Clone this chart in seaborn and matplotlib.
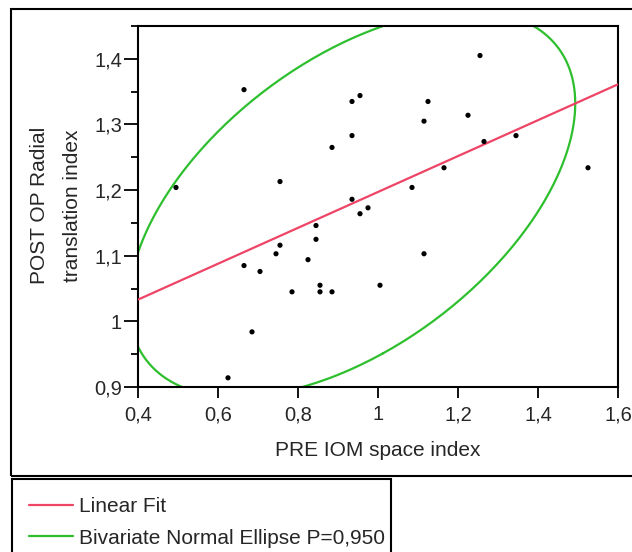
import numpy as np
import pandas as pd
import matplotlib
matplotlib.use("Agg")
import matplotlib.pyplot as plt
from matplotlib.patches import Rectangle
from matplotlib.ticker import FixedLocator
import seaborn as sns

# ---- data ----
pre_iom = [0.495, 0.665, 0.935, 0.955, 0.935, 0.885, 0.755, 0.935, 1.255, 1.125,
           1.115, 1.225, 1.265, 1.345, 1.165, 1.525, 1.085, 0.955, 0.975, 0.845,
           0.845, 0.755, 0.745, 0.825, 0.665, 0.705, 0.785, 0.855, 0.855, 0.885,
           1.005, 0.685, 0.625, 1.115]
post_op = [1.204, 1.353, 1.335, 1.344, 1.283, 1.265, 1.213, 1.186, 1.405, 1.335,
           1.305, 1.314, 1.274, 1.283, 1.234, 1.234, 1.204, 1.164, 1.173, 1.146,
           1.125, 1.116, 1.103, 1.094, 1.085, 1.076, 1.045, 1.055, 1.045, 1.045,
           1.055, 0.984, 0.914, 1.103]
ellipse_p = 0.950

x_ticks = [0.4, 0.6, 0.8, 1.0, 1.2, 1.4, 1.6]
x_tick_labels = ["0,4", "0,6", "0,8", "1", "1,2", "1,4", "1,6"]
y_ticks = [0.9, 1.0, 1.1, 1.2, 1.3, 1.4]
y_tick_labels = ["0,9", "1", "1,1", "1,2", "1,3", "1,4"]
y_minor_ticks = [0.95, 1.05, 1.15, 1.25, 1.35, 1.45]

x_label = "PRE IOM space index"
y_label_lines = ["POST OP Radial", "translation index"]
legend_labels = ["Linear Fit", "Bivariate Normal Ellipse P=0,950"]

df = pd.DataFrame({"pre": pre_iom, "post": post_op})

# ---- style ----
sns.set_theme(style="white")
plt.rcParams["font.family"] = ["Liberation Sans", "DejaVu Sans"]

RED = "#EE4466"
GREEN = "#2EBF2E"

W, H = 632, 552
fig = plt.figure(figsize=(W / 100, H / 100), dpi=100)
fig.patch.set_facecolor("white")
ax = fig.add_axes([138 / W, 1 - 387 / H, 480 / W, 361 / H])
ax.set_facecolor("white")

ax.set_xlim(0.4, 1.6)
ax.set_ylim(0.9, 1.45)

# linear fit (least squares through data)
sns.regplot(data=df, x="pre", y="post", ax=ax, scatter=False, ci=None,
            truncate=False, line_kws=dict(color=RED, lw=1.6, zorder=3))

# bivariate normal ellipse
mx, my = np.mean(pre_iom), np.mean(post_op)
cov = np.cov(np.vstack([pre_iom, post_op]))
r2 = -2.0 * np.log(1.0 - ellipse_p)
vals, vecs = np.linalg.eigh(cov)
t = np.linspace(0, 2 * np.pi, 400)
circ = np.vstack([np.cos(t), np.sin(t)])
pts = vecs @ (np.sqrt(vals * r2)[:, None] * circ)
ell = pd.DataFrame({"x": mx + pts[0], "y": my + pts[1]})
sns.lineplot(data=ell, x="x", y="y", sort=False, ax=ax, color=GREEN, lw=1.6,
             zorder=2, estimator=None)

# scatter points
sns.scatterplot(data=df, x="pre", y="post", ax=ax, color="black", s=14,
                marker="o", edgecolor="none", zorder=4)

ax.set_xlim(0.4, 1.6)
ax.set_ylim(0.9, 1.45)
ax.set_xlabel("")
ax.set_ylabel("")

ax.xaxis.set_major_locator(FixedLocator(x_ticks))
ax.set_xticklabels(x_tick_labels)
ax.yaxis.set_major_locator(FixedLocator(y_ticks))
ax.set_yticklabels(y_tick_labels)
ax.yaxis.set_minor_locator(FixedLocator(y_minor_ticks))

ax.tick_params(axis="x", which="major", direction="out", length=8, width=1.3,
               color="black", labelsize=14.5, pad=5, bottom=True)
ax.tick_params(axis="y", which="major", direction="out", length=10, width=1.3,
               color="black", labelsize=14.5, pad=1.5, left=True)
ax.tick_params(axis="y", which="minor", direction="out", length=5, width=1.3,
               color="black", left=True)
for s in ax.spines.values():
    s.set_color("black")
    s.set_linewidth(1.5)
    s.set_visible(True)

# axis labels
fig.text(378 / W, 1 - 450 / H, x_label, ha="center", va="center", fontsize=15)
fig.text(40 / W, 1 - 205 / H, y_label_lines[0], rotation=90, ha="center",
         va="center", fontsize=15)
fig.text(72 / W, 1 - 206 / H, y_label_lines[1], rotation=90, ha="center",
         va="center", fontsize=15)

# outer frames
fig.patches.append(Rectangle((11 / W, 1 - 476 / H), (W + 20 - 11) / W, (476 - 9) / H,
                             transform=fig.transFigure, fill=False, lw=1.5,
                             ec="black", zorder=0))
fig.patches.append(Rectangle((12 / W, -0.05), (391 - 12) / W, (1 - 479 / H) + 0.05,
                             transform=fig.transFigure, fill=False, lw=1.5,
                             ec="black", zorder=0))

# legend
handles = [ax.lines[0], ax.lines[1]]
fig.legend(handles=handles, labels=legend_labels, loc="upper left",
           bbox_to_anchor=(29 / W, 1 - 497 / H), frameon=False, fontsize=15,
           handlelength=2.1, handletextpad=0.3, labelspacing=0.6,
           borderpad=0, borderaxespad=0)

fig.savefig("out.png", dpi=100, facecolor="white")
